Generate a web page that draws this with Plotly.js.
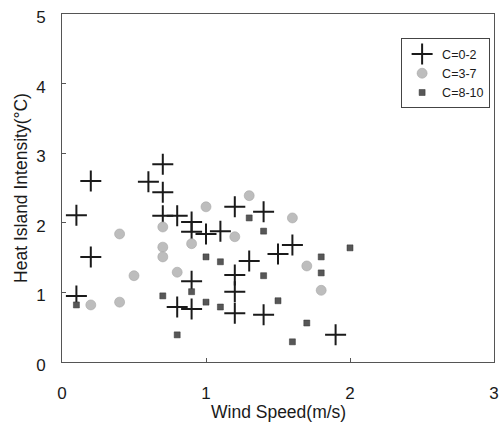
<!DOCTYPE html>
<html>
<head>
<meta charset="utf-8">
<script src="https://cdn.plot.ly/plotly-3.0.1.min.js"></script>
<style>html,body{margin:0;padding:0;background:#fff;}#chart{width:502px;height:429px;}</style>
</head>
<body>
<div id="chart"></div>
<script>
// C=0-2 (crosses)
const windC02 = [0.1, 0.2, 0.2, 0.1, 0.6, 0.7, 0.7, 0.7, 0.8, 0.9, 0.9, 1.0, 1.1, 1.2, 1.4, 1.6, 1.5, 1.3, 0.9, 1.2, 1.2, 0.9, 1.2, 1.4, 1.9, 0.8];
const heatC02 = [2.11, 2.60, 1.51, 0.95, 2.59, 2.84, 2.44, 2.10, 2.10, 2.01, 1.87, 1.84, 1.88, 2.23, 2.16, 1.68, 1.55, 1.45, 1.16, 1.25, 1.01, 0.76, 0.70, 0.68, 0.39, 0.79];
// C=3-7 (gray circles)
const windC37 = [0.4, 1.0, 0.7, 0.9, 0.7, 0.7, 0.5, 0.8, 0.2, 0.4, 1.3, 1.6, 1.2, 1.7, 1.8];
const heatC37 = [1.84, 2.23, 1.94, 1.70, 1.65, 1.51, 1.24, 1.29, 0.82, 0.86, 2.39, 2.07, 1.80, 1.38, 1.03];
// C=8-10 (dark squares)
const windC810 = [0.1, 0.7, 0.8, 0.9, 1.0, 1.0, 1.1, 1.1, 1.3, 1.4, 1.4, 1.5, 1.6, 1.7, 1.8, 1.8, 2.0];
const heatC810 = [0.82, 0.95, 0.39, 1.01, 0.86, 1.51, 1.44, 0.79, 2.07, 1.88, 1.24, 0.88, 0.29, 0.56, 1.51, 1.28, 1.64];

const seriesNames = ['C=0-2', 'C=3-7', 'C=8-10'];
const xTicks = [0, 1, 2, 3];
const yTicks = [0, 1, 2, 3, 4, 5];

const font = 'Liberation Sans, Arial, sans-serif';

const traces = [
  {x: windC02, y: heatC02, name: seriesNames[0], type: 'scatter', mode: 'markers',
   marker: {symbol: 'cross-thin-open', size: 15, color: '#1a1a1a', line: {width: 2, color: '#1a1a1a'}}},
  {x: windC37, y: heatC37, name: seriesNames[1], type: 'scatter', mode: 'markers',
   marker: {symbol: 'circle', size: 10, color: '#bdbdbd', line: {width: 0.6, color: '#a8a8a8'}}},
  {x: windC810, y: heatC810, name: seriesNames[2], type: 'scatter', mode: 'markers',
   marker: {symbol: 'square', size: 6, color: '#575757', line: {width: 0.5, color: '#333'}}}
];

const axisCommon = {
  showgrid: false, zeroline: false, showline: true, linecolor: '#555', linewidth: 1,
  mirror: true, ticks: 'inside', ticklen: 4, tickcolor: '#555',
  tickfont: {family: font, size: 17, color: '#1a1a1a'}
};

const layout = {
  width: 502, height: 429,
  margin: {l: 62, r: 8, t: 14, b: 67},
  paper_bgcolor: '#fff', plot_bgcolor: '#fff',
  showlegend: true,
  legend: {
    x: 0.785, y: 0.93, xanchor: 'left', yanchor: 'top',
    bordercolor: '#444', borderwidth: 1, bgcolor: '#fff',
    font: {family: font, size: 12.5, color: '#1a1a1a'},
    itemwidth: 30, tracegroupgap: 0
  },
  xaxis: Object.assign({}, axisCommon, {
    range: [0, 3], tickvals: xTicks, ticktext: xTicks.map(String),
    ticklabelstandoff: 16
  }),
  yaxis: Object.assign({}, axisCommon, {
    range: [0, 5], tickvals: yTicks, ticktext: yTicks.map(String),
    ticklabelstandoff: 12, ticklabelshift: 3,
    title: {text: 'Heat Island Intensity(°C)', font: {family: font, size: 17.5, color: '#1a1a1a'}, standoff: 4}
  }),
  annotations: [
    {text: 'Wind Speed(m/s)', xref: 'paper', yref: 'paper', x: 0.5, y: -0.145,
     xanchor: 'center', yanchor: 'middle', showarrow: false,
     font: {family: font, size: 17.5, color: '#1a1a1a'}}
  ]
};

Plotly.newPlot('chart', traces, layout, {displayModeBar: false, staticPlot: true});
</script>
</body>
</html>
